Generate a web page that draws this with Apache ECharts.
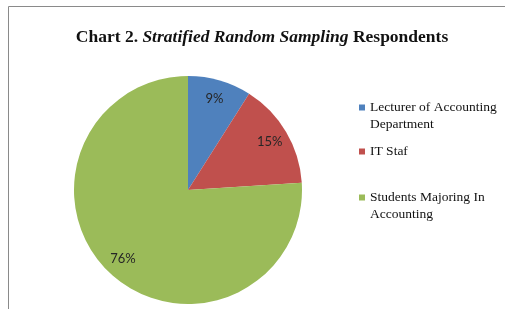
<!DOCTYPE html>
<html><head><meta charset="utf-8">
<script src="https://cdn.jsdelivr.net/npm/echarts@6/dist/echarts.min.js"></script>
<style>html,body{margin:0;padding:0;background:#fff}#c{width:505px;height:309px}</style>
</head><body><div id="c"></div>
<script>
const categories = ['Lecturer of Accounting\nDepartment', 'IT Staf', 'Students Majoring In\nAccounting'];
const values = [9, 15, 76];
const colors = ['#4F81BD', '#C0504D', '#9BBB59'];

const data = categories.map((n, i) => ({ name: n, value: values[i], itemStyle: { color: colors[i] } }));
const serif = '"Liberation Serif", "Times New Roman", serif';
const legendBase = {
  orient: 'vertical', left: 359, itemWidth: 6, itemHeight: 6, icon: 'rect', itemGap: 0, padding: 0,
  selectedMode: false,
  textStyle: { fontFamily: serif, fontSize: 13.5, color: '#111', lineHeight: 17 }
};
// two-line items: a blank first line keeps the marker level with the first text line
const twoLine = name => ' \n' + name;
const chart = echarts.init(document.getElementById('c'), null, { renderer: 'canvas' });
chart.setOption({
  animation: false,
  graphic: [{ type: 'rect', shape: { x: 8.5, y: 6.5, width: 700, height: 500 }, style: { fill: 'none', stroke: '#8a8a8a', lineWidth: 1 } }],
  title: {
    text: '{b|Chart 2. }{bi|Stratified Random Sampling}{b| Respondents}',
    left: 257, top: 23, textAlign: 'center',
    textStyle: { rich: {
      b: { fontFamily: serif, fontWeight: 'bold', fontSize: 17.5, color: '#111' },
      bi: { fontFamily: serif, fontWeight: 'bold', fontStyle: 'italic', fontSize: 17.5, color: '#111' }
    } }
  },
  legend: [
    Object.assign({}, legendBase, { top: 82, data: [categories[0]], formatter: twoLine }),
    Object.assign({}, legendBase, { top: 143, data: [categories[1]] }),
    Object.assign({}, legendBase, { top: 172, data: [categories[2]], formatter: twoLine })
  ],
  series: [
    {
      type: 'pie', center: [188, 190], radius: 114, startAngle: 90, clockwise: true,
      data: data, label: { show: false }, labelLine: { show: false }, silent: true
    },
    {
      type: 'pie', center: [188, 190], radius: [70, 114], startAngle: 90, clockwise: true,
      data: data.map(d => ({ name: d.name, value: d.value, itemStyle: { color: 'rgba(0,0,0,0)' } })),
      silent: true, legendHoverLink: false,
      label: { show: true, position: 'inside', formatter: '{c}%', fontFamily: 'Lato, "Open Sans", sans-serif', fontSize: 13, color: '#262626' },
      labelLine: { show: false }
    }
  ]
});
</script></body></html>
